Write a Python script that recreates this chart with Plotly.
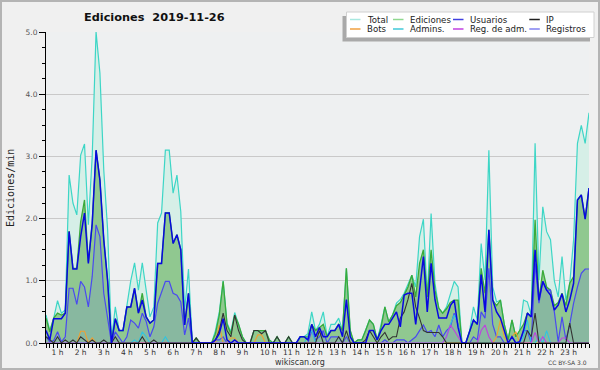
import plotly.graph_objects as go

# ---- data (Ediciones/min, 10-minute steps from 0:00) ----
total = [.45,.20,.40,.68,.48,.53,2.70,2.25,2.06,3.02,3.20,1.90,3.00,5.00,4.34,2.78,1.82,.05,.58,.20,
         .20,.60,1.00,1.29,.85,1.29,.85,.42,.58,1.93,2.09,3.10,3.10,2.41,2.70,2.11,.53,1.19,0,.08,
         0,0,0,0,.20,.50,1.00,.32,.18,.49,.30,.10,0,0,.20,.20,.20,.20,.05,0,
         .10,0,0,.10,0,0,.10,.10,.15,.50,.20,.30,.50,.10,.30,.30,.40,.20,1.20,.20,
         0,.05,.05,.20,.37,.30,.05,.30,.58,.34,.45,.64,.70,.80,.95,1.09,.90,1.71,1.99,.74,
         2.08,.96,.56,.48,.58,.80,.99,.90,0,0,.20,.58,.37,1.60,1.01,3.10,.90,.66,.69,.30,
         .05,.37,.10,.20,.69,.66,.45,3.21,1.01,2.19,1.79,1.66,1.00,.74,1.39,.69,.96,1.66,3.21,3.50,
         3.21,3.70]
ediciones = [.40,.18,.40,.48,.45,.48,1.80,1.20,1.20,1.95,2.30,1.30,1.92,3.10,2.62,1.66,1.00,0,.39,.20,
             .20,.58,.58,.88,.48,.80,.42,.32,.37,1.28,1.28,2.09,2.09,1.60,1.74,1.50,.29,.80,0,.08,
             0,0,0,0,.15,.45,.99,.30,.15,.45,.30,.10,0,0,.20,.20,.20,.20,.05,0,
             .10,0,0,.10,0,0,.10,.10,.10,.30,.20,.25,.30,.10,.20,.20,.30,.20,1.20,.20,
             0,.05,.05,.20,.37,.30,.05,.25,.58,.34,.45,.60,.65,.77,.90,1.09,.74,1.28,1.50,.74,
             1.50,.85,.56,.48,.55,.65,.69,.69,0,0,.20,.37,.30,1.20,.80,1.82,.69,.60,.69,.30,
             .05,.37,.10,.20,.30,.48,.42,1.98,.69,1.17,.90,.85,.60,.65,.80,.60,.96,1.07,2.30,2.38,
             2.00,2.49]
usuarios = [.20,.05,.39,.39,.39,.48,1.79,1.19,1.19,1.71,2.09,1.28,1.92,3.10,2.62,1.66,1.00,0,.39,.20,
            .20,.58,.58,.88,.48,.69,.42,.32,.37,1.28,1.28,2.09,2.09,1.60,1.74,1.50,.29,.80,0,0,
            0,0,0,0,.05,.15,.39,.05,0,.05,0,0,0,0,0,0,0,0,0,0,
            0,0,0,0,0,0,.10,.10,.05,.30,.10,.25,.10,.10,.20,.20,.30,.10,.70,.10,
            0,0,0,0,.20,.20,.05,.20,.30,.30,.40,.50,.26,.77,.80,.80,.30,.90,1.39,.50,
            1.28,.70,.40,.40,.40,.60,.69,.25,0,0,.20,.37,.30,1.10,.50,1.82,.69,.50,.40,.20,
            0,.10,0,.02,.20,.48,.42,1.50,.69,.99,.85,.77,.53,.61,.79,.50,.69,.96,2.30,2.38,
            1.99,2.49]
registros = [.10,.02,.04,.18,.02,.10,.88,.88,.62,.99,.90,.58,1.07,1.90,1.71,.80,.40,0,.18,.08,
             0,.10,.37,.32,.24,.48,.35,.10,.26,.64,.80,.99,.99,.80,.77,.66,.13,.40,0,0,
             0,0,0,0,.05,.05,.10,0,0,0,0,0,0,0,0,0,0,0,0,0,
             0,0,0,0,0,0,0,0,0,.20,.05,.10,.20,0,.10,.10,.10,0,.10,0,
             0,0,0,0,0,0,0,0,.05,0,0,.05,.05,.05,0,.05,.10,.20,.29,.17,
             .20,.10,.29,.10,.20,.26,.48,.30,0,0,0,.10,.05,.50,.40,1.20,.30,.10,.10,0,
             0,0,0,0,.20,.20,0,1.28,.64,.99,.85,.85,.50,.02,.42,.05,.30,.64,.90,1.12,
             1.19,1.19]
ip = [.10,.05,0,.10,0,.05,0,.05,0,.10,.05,0,.05,0,0,.05,0,0,.10,0,
      0,0,0,0,0,.10,0,0,.05,0,0,0,0,0,0,0,0,0,0,.08,
      0,0,0,0,.05,.20,.48,.20,.10,.45,.20,.05,0,0,.20,.20,.15,.20,0,0,
      .10,0,0,.10,0,0,0,0,0,0,0,.20,0,0,0,0,.10,0,.20,0,
      0,0,0,.05,.20,.10,0,.10,.17,.05,.10,.10,.40,.50,.70,.96,.58,.40,.20,.17,
      .17,.17,.17,.10,0,0,0,0,0,0,0,0,0,0,0,0,0,0,0,0,
      0,0,0,0,0,.20,.10,.48,0,0,0,0,0,0,0,0,.32,0,0,0,
      0,0]
bots = [0,0,0,0,0,0,0,0,0,.19,.19,0,.08,0,0,0,0,0,0,0,
        0,0,0,0,0,0,0,0,0,0,0,0,0,0,0,0,0,0,0,0,
        0,0,0,0,0,.29,0,0,.08,.08,0,0,0,0,0,.13,.13,0,0,0,
        0,0,0,0,0,0,0,0,0,0,0,0,0,0,0,0,0,0,0,0,
        0,0,0,0,0,0,0,0,0,0,0,0,0,0,0,0,0,0,0,0,
        0,0,0,0,0,0,0,0,0,0,0,0,0,0,0,0,0,.10,.37,.10,
        0,.10,.18,0,0,0,0,0,0,0,0,0,0,0,0,0,0,0,0,0,
        0,0]
admins = [0,0,0,0,0,0,0,0,0,0,0,0,0,0,0,0,0,0,0,0,
          0,0,0,.05,0,.18,.10,0,0,0,0,.10,0,0,0,0,0,0,0,0,
          0,0,0,0,0,0,0,0,0,0,0,0,0,0,0,0,0,0,0,0,
          0,0,0,0,0,0,0,0,.10,.20,0,0,0,0,0,0,0,0,0,0,
          0,0,0,0,0,0,0,0,0,0,0,0,0,0,0,0,0,0,0,0,
          0,0,0,0,.10,.30,.45,.30,0,0,0,0,0,0,0,0,0,0,0,0,
          0,0,0,0,.10,.37,0,0,.10,0,.20,0,0,0,0,0,0,0,0,0,
          0,0]
reg_adm = [0]*104 + [.10,.29,.20,.10,0,0,0,0,0,.20,.29,.10,0,0,0,0,
                     0,0,0,0,0,0,0,.17,0,.10,0,0,0,0,.08,.08,0,0,0,0,0,0]

hour_labels = [f"{h} h" for h in range(1, 24)]
legend_rows = [["Total", "Ediciones", "Usuarios", "IP"],
               ["Bots", "Admins.", "Reg. de adm.", "Registros"]]

# ---- figure ----
t = [i / 6 for i in range(len(total))]
W, H = 600, 370
ML, MR, MT, MB = 46, 11, 32, 27
PW, PH = W - ML - MR, H - MT - MB

def px(x):
    return (x - ML) / PW

def py(y):
    return (H - MB - y) / PH

fig = go.Figure()
# fills
for ys, fc in [(total, "#d6efe7"), (ediciones, "#90c890"), (registros, "rgba(112,136,208,0.25)")]:
    fig.add_trace(go.Scatter(x=t, y=ys, mode="none", fill="tozeroy", fillcolor=fc,
                             showlegend=False, hoverinfo="skip"))
# lines
for ys, col, w in [(total, "#3dd6c6", 1.2), (ediciones, "#3aaa3a", 1.3),
                   (registros, "#4a4af0", 1.2), (bots, "#f0a030", 1.1),
                   (admins, "#30c4e0", 1.1), (reg_adm, "#c040e0", 1.1),
                   (ip, "#333333", 1.1), (usuarios, "#0808e0", 1.5)]:
    fig.add_trace(go.Scatter(x=t, y=ys, mode="lines", line=dict(color=col, width=w),
                             showlegend=False, hoverinfo="skip"))

tick_pos = [h - 0.5 if h < 10 else h - 0.38 for h in range(1, 24)]
fig.update_xaxes(range=[0, t[-1]], showline=True, linecolor="black", linewidth=1,
                 showgrid=False, zeroline=False, ticks="", tickvals=tick_pos,
                 ticktext=hour_labels, ticklabelstandoff=2,
                 tickfont=dict(family="DejaVu Sans", size=7.5, color="#333"),
                 minor=dict(ticks="outside", ticklen=4, tickcolor="black",
                            tickmode="array", tickvals=t, showgrid=False))
fig.update_yaxes(range=[0, 5], showline=True, linecolor="black", linewidth=1,
                 showgrid=True, gridcolor="#c9c9c9", gridwidth=1, zeroline=False,
                 tickvals=[0, 1, 2, 3, 4, 5], ticktext=["0.0", "1.0", "2.0", "3.0", "4.0", "5.0"],
                 ticks="outside", ticklen=6, tickcolor="black",
                 tickfont=dict(family="DejaVu Sans", size=7.5, color="#555"),
                 minor=dict(ticks="outside", ticklen=3, tickcolor="black", dtick=0.25,
                            showgrid=False))

shapes = [
    # outer frame
    dict(type="rect", xref="paper", yref="paper", x0=px(1), x1=px(W - 1), y0=py(H - 1), y1=py(1),
         line=dict(color="#b4b4b4", width=2), fillcolor="rgba(0,0,0,0)", layer="below"),
    # legend shadow + box
    dict(type="rect", xref="paper", yref="paper", x0=px(342.5), x1=px(590), y0=py(41.5), y1=py(16),
         line=dict(width=0), fillcolor="#a9a9a9"),
    dict(type="rect", xref="paper", yref="paper", x0=px(346.5), x1=px(594), y0=py(37.5), y1=py(12),
         line=dict(color="#d0d0d0", width=1), fillcolor="white"),
]
annotations = [
    dict(text="<b>Ediciones\u00a0 2019-11-26</b>", x=px(154), y=py(17), xref="paper", yref="paper",
         showarrow=False, xanchor="center", yanchor="middle",
         font=dict(family="DejaVu Sans", size=11.3, color="#111")),
    dict(text="Ediciones/min", x=px(10), y=py(188), xref="paper", yref="paper", textangle=-90,
         showarrow=False, xanchor="center", yanchor="middle",
         font=dict(family="DejaVu Sans Mono", size=10, color="#222")),
    dict(text="wikiscan.org", x=px(300), y=py(362), xref="paper", yref="paper",
         showarrow=False, xanchor="center", yanchor="middle",
         font=dict(family="DejaVu Sans", size=8, color="#333")),
    dict(text="CC BY-SA 3.0", x=px(589), y=py(362.5), xref="paper", yref="paper",
         showarrow=False, xanchor="right", yanchor="middle",
         font=dict(family="DejaVu Sans", size=6, color="#444")),
]
legend_colors = [["#a8e8e0", "#90d890", "#4040e0", "#202020"],
                 ["#f0a040", "#40c8d8", "#c040e0", "#8080f0"]]
col_x = [350, 393, 453, 529.3]
row_y = [19.5, 29]
for r, row in enumerate(legend_rows):
    for c, name in enumerate(row):
        x0 = col_x[c]
        shapes.append(dict(type="line", xref="paper", yref="paper", x0=px(x0), x1=px(x0 + 10.5),
                           y0=py(row_y[r]), y1=py(row_y[r]),
                           line=dict(color=legend_colors[r][c], width=1.5)))
        annotations.append(dict(text=name, x=px(x0 + 15), y=py(row_y[r]), xref="paper", yref="paper",
                                showarrow=False, xanchor="left", yanchor="middle",
                                font=dict(family="DejaVu Sans", size=8.6, color="#222")))

fig.update_layout(width=W, height=H, autosize=False,
                  margin=dict(l=ML, r=MR, t=MT, b=MB, pad=0),
                  paper_bgcolor="#f0f0f0", plot_bgcolor="#eef0f1",
                  showlegend=False, shapes=shapes, annotations=annotations,
                  hovermode=False)

fig.write_html("out.html", config={"displayModeBar": False, "staticPlot": True},
               post_script="document.body.style.margin='0';document.body.style.background='#f0f0f0';")
